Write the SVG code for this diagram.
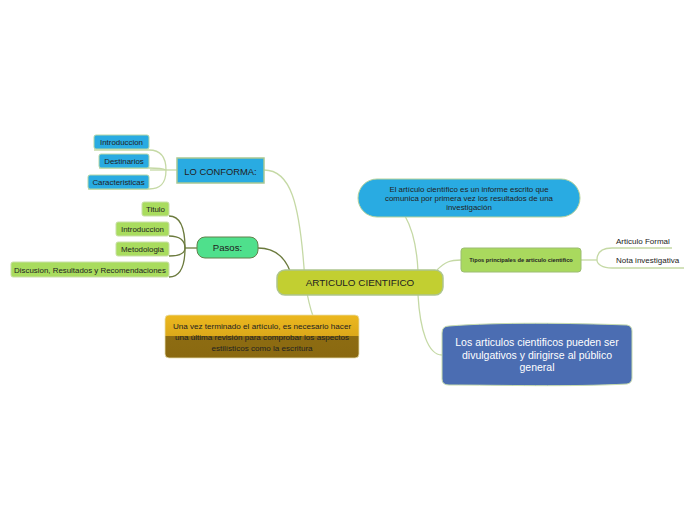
<svg xmlns="http://www.w3.org/2000/svg" width="697" height="520" viewBox="0 0 697 520">
<defs>
<linearGradient id="gold" x1="0" y1="0" x2="0" y2="1">
<stop offset="0" stop-color="#ecb81f"/><stop offset="0.5" stop-color="#dba81a"/><stop offset="0.5" stop-color="#8d6c12"/><stop offset="1" stop-color="#8a6910"/>
</linearGradient>
</defs>
<style>
text{font-family:"Liberation Sans",Arial,sans-serif;fill:#222;}
.lite{fill:none;stroke:#c5d9a5;stroke-width:1.3;}
.dark{fill:none;stroke:#6b7a3d;stroke-width:1.3;}
.blue{fill:#29abe2;stroke:#b7d8a6;stroke-width:1;}
.lg{fill:#a9dc5e;stroke:#c9dfa8;stroke-width:1;}
.s7{font-size:7.9px;}
</style>
<rect width="697" height="520" fill="#ffffff"/>
<g id="connectors">
<path class="lite" d="M264,170 C290,170 300,200 305,282"/>
<path class="lite" d="M305,282 C308,300 310,308 313,316"/>
<path class="dark" d="M258,248 C276,248 285,258 290,271"/>
<path class="lite" d="M405,216 C413,230 417,250 418,271"/>
<path class="lite" d="M437,270 C445,262 450,260 461,260"/>
<path class="lite" d="M418,295 C420,330 428,355 442,355"/>
<path class="lite" d="M177,170 L150,170"/>
<path class="lite" d="M166,170 C166,156 160,150 149,150 L94,150"/>
<path class="lite" d="M166,170 C166,184 160,189 149,189 L88,189"/>
<path class="lite" d="M166,170 C162,168 156,168 149,168 L99,168"/>
<path class="dark" d="M197,248 L185,248"/>
<path class="dark" d="M185,248 C185,226 180,216 169,216"/>
<path class="dark" d="M185,248 C185,241 180,236 169,236"/>
<path class="dark" d="M185,248 C185,253 180,256 169,256"/>
<path class="dark" d="M185,248 C185,268 180,277 169,277"/>
<path class="lite" d="M581,260 L597,260"/>
<path class="lite" d="M597,260 C597,252 602,248 612,248 L672,248"/>
<path class="lite" d="M597,260 C597,264 602,268 612,268 L684,268"/>
</g>
<g id="central">
<rect x="277" y="270" width="166" height="25" rx="8" fill="#c2cf31" stroke="#adc58e" stroke-width="1.5"/>
<text x="360" y="286" font-size="9.9px" text-anchor="middle">ARTICULO CIENTIFICO</text>
</g>
<g id="lo-conforma">
<rect x="177" y="158" width="87" height="25" fill="#29abe2" stroke="#a9c893" stroke-width="1.5"/>
<text x="220.5" y="174.5" font-size="9.4px" text-anchor="middle">LO CONFORMA:</text>
</g>
<g id="introduccion1"><rect class="blue" x="94" y="135" width="55" height="14" rx="2"/><text class="s7" x="121.5" y="145" text-anchor="middle">Introduccion</text></g>
<g id="destinarios"><rect class="blue" x="99" y="154" width="50" height="14" rx="2"/><text class="s7" x="124" y="164" text-anchor="middle">Destinarios</text></g>
<g id="caracteristicas"><rect class="blue" x="88" y="175" width="61" height="14" rx="2"/><text class="s7" x="118.5" y="185" text-anchor="middle">Caracteristicas</text></g>
<g id="pasos">
<rect x="197" y="237" width="61" height="21" rx="8" fill="#4fe08c" stroke="#62804a" stroke-width="1"/>
<text x="227.5" y="251" font-size="9.6px" text-anchor="middle">Pasos:</text>
</g>
<g id="titulo"><rect class="lg" x="142" y="202" width="27" height="14" rx="2"/><text class="s7" x="155.5" y="212" text-anchor="middle">Titulo</text></g>
<g id="introduccion2"><rect class="lg" x="116" y="222" width="53" height="14" rx="2"/><text class="s7" x="142.5" y="232" text-anchor="middle">Introduccion</text></g>
<g id="metodologia"><rect class="lg" x="116" y="242" width="53" height="14" rx="2"/><text class="s7" x="142.5" y="252" text-anchor="middle">Metodologia</text></g>
<g id="discusion"><rect class="lg" x="11" y="262" width="158" height="15" rx="2"/><text class="s7" x="90" y="272.5" text-anchor="middle">Discusion, Resultados y Recomendaciones</text></g>
<g id="revision">
<rect x="165" y="315" width="194" height="43" rx="4" fill="url(#gold)" stroke="#e8e0b0" stroke-width="0.8"/>
<text x="262" y="328.5" font-size="8.1px" text-anchor="middle">Una vez terminado el artículo, es necesario hacer</text>
<text x="262" y="339.5" font-size="8.1px" text-anchor="middle">una última revisión para comprobar los aspectos</text>
<text x="262" y="350.5" font-size="8.1px" text-anchor="middle">estilísticos como la escritura</text>
</g>
<g id="definicion">
<rect x="358" y="179" width="222" height="38" rx="19" fill="#29abe2" stroke="#b7d39a" stroke-width="1"/>
<text x="469" y="191.5" font-size="7.9px" text-anchor="middle">El artículo científico es un informe escrito que</text>
<text x="469" y="200.5" font-size="7.9px" text-anchor="middle">comunica por primera vez los resultados de una</text>
<text x="469" y="209.5" font-size="7.9px" text-anchor="middle">investigación</text>
</g>
<g id="tipos">
<rect x="461" y="248" width="120" height="24" rx="3" fill="#a9d95e" stroke="#9cbc72" stroke-width="1"/>
<text x="521" y="262" font-size="5.7px" font-weight="bold" text-anchor="middle">Tipos principales de articulo cientifico</text>
</g>
<g id="articulo-formal"><text x="616" y="244" font-size="8px">Articulo Formal</text></g>
<g id="nota-investigativa"><text x="616" y="263" font-size="8px">Nota investigativa</text></g>
<g id="divulgativos">
<path d="M449,326 C500,322 570,323 627,325 Q632,326 632,331 L632,378 Q632,383 627,384 C570,387 500,385 449,385 Q442,385 442,379 L442,333 Q442,326 449,326 Z" fill="#4b6db2" stroke="#c7dcae" stroke-width="1"/>
<text x="537" y="346" font-size="10.5px" text-anchor="middle" style="fill:#ffffff">Los articulos cientificos pueden ser</text>
<text x="537" y="358.5" font-size="10.5px" text-anchor="middle" style="fill:#ffffff">divulgativos y dirigirse al público</text>
<text x="537" y="371" font-size="10.5px" text-anchor="middle" style="fill:#ffffff">general</text>
</g>
</svg>
